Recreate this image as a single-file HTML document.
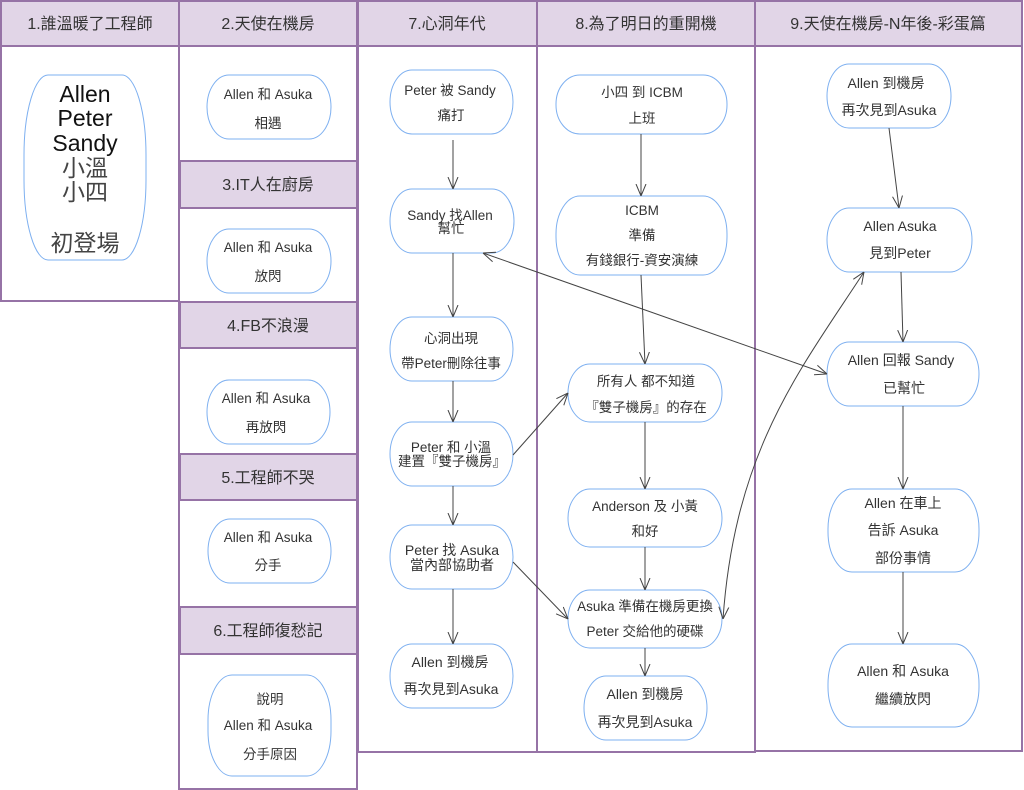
<!DOCTYPE html>
<html><head><meta charset="utf-8">
<style>
html,body{margin:0;padding:0;background:#fff;}
svg{display:block;}
text{font-family:"Liberation Sans","Noto Sans CJK TC",sans-serif;fill:#333;}
.h{font-size:16px;text-anchor:middle;}
.n{font-size:13.5px;text-anchor:middle;}
.m{font-size:14px;text-anchor:middle;}
.hd{fill:#e1d5e7;stroke:#9673a6;stroke-width:2;}
.ln{fill:#fff;stroke:#9673a6;stroke-width:2;}
.nd{fill:#fff;stroke:#7eb0f0;stroke-width:1;}
.e{fill:none;stroke:#444;stroke-width:1;}
</style></head><body>
<svg width="1024" height="790" viewBox="0 0 1024 790" xmlns="http://www.w3.org/2000/svg">
<defs>
<marker id="a" viewBox="0 0 12 12" refX="12" refY="6" markerWidth="12" markerHeight="12" orient="auto" markerUnits="userSpaceOnUse">
<path d="M0,1 L12,6 L0,11" fill="none" stroke="#444" stroke-width="1"/></marker>
<marker id="s" viewBox="0 0 12 12" refX="0" refY="6" markerWidth="12" markerHeight="12" orient="auto" markerUnits="userSpaceOnUse">
<path d="M12,1 L0,6 L12,11" fill="none" stroke="#444" stroke-width="1"/></marker>
</defs>

<!-- Lane 1 -->
<rect class="ln" x="1" y="46" width="178" height="255"/>
<rect class="hd" x="1" y="1" width="178" height="45"/>
<text class="h" x="90" y="29">1.誰溫暖了工程師</text>
<rect class="nd" x="24" y="75" width="122" height="185" rx="24" ry="80"/>
<text x="85" y="102" style="font-size:23px;text-anchor:middle;fill:#111">Allen</text>
<text x="85" y="126" style="font-size:23px;text-anchor:middle;fill:#111">Peter</text>
<text x="85" y="151" style="font-size:23px;text-anchor:middle;fill:#111">Sandy</text>
<text x="85" y="176" style="font-size:23px;text-anchor:middle;fill:#444">小溫</text>
<text x="85" y="200" style="font-size:23px;text-anchor:middle;fill:#444">小四</text>
<text x="85" y="251" style="font-size:23px;text-anchor:middle;fill:#444">初登場</text>

<!-- Lane 2 -->
<rect class="ln" x="179" y="46" width="178" height="743"/>
<rect class="hd" x="179" y="1" width="178" height="45"/>
<text class="h" x="268" y="29">2.天使在機房</text>
<rect class="hd" x="180" y="161" width="177" height="47"/>
<text class="h" x="268" y="190">3.IT人在廚房</text>
<rect class="hd" x="180" y="302" width="177" height="46"/>
<text class="h" x="268" y="331">4.FB不浪漫</text>
<rect class="hd" x="180" y="454" width="177" height="46"/>
<text class="h" x="268" y="483">5.工程師不哭</text>
<rect class="hd" x="180" y="607" width="177" height="47"/>
<text class="h" x="268" y="636">6.工程師復愁記</text>

<rect class="nd" x="207" y="75" width="124" height="64" rx="22" ry="32"/>
<text class="n" x="268" y="99">Allen 和 Asuka</text><text class="n" x="268" y="128">相遇</text>
<rect class="nd" x="207" y="229" width="124" height="64" rx="22" ry="32"/>
<text class="n" x="268" y="252">Allen 和 Asuka</text><text class="n" x="268" y="281">放閃</text>
<rect class="nd" x="207" y="380" width="123" height="64" rx="22" ry="32"/>
<text class="n" x="266" y="403">Allen 和 Asuka</text><text class="n" x="266" y="432">再放閃</text>
<rect class="nd" x="208" y="519" width="123" height="64" rx="22" ry="32"/>
<text class="n" x="268" y="542">Allen 和 Asuka</text><text class="n" x="268" y="570">分手</text>
<rect class="nd" x="208" y="675" width="123" height="101" rx="24" ry="45"/>
<text class="n" x="270" y="704">說明</text><text class="n" x="268" y="730">Allen 和 Asuka</text><text class="n" x="270" y="759">分手原因</text>

<!-- Lane 7 -->
<rect class="ln" x="358" y="46" width="179" height="706"/>
<rect class="hd" x="358" y="1" width="179" height="45"/>
<text class="h" x="447" y="29">7.心洞年代</text>
<rect class="nd" x="390" y="70" width="123" height="64" rx="22" ry="32"/>
<text class="n" x="450" y="95">Peter 被 Sandy</text><text class="n" x="451" y="120">痛打</text>
<rect class="nd" x="390" y="189" width="124" height="64" rx="22" ry="32"/>
<text class="n" x="450" y="220">Sandy 找Allen</text><text class="n" x="451" y="233">幫忙</text>
<rect class="nd" x="390" y="317" width="123" height="64" rx="22" ry="32"/>
<text class="n" x="451" y="343">心洞出現</text><text class="n" x="451" y="368">帶Peter刪除往事</text>
<rect class="nd" x="390" y="422" width="123" height="64" rx="22" ry="32"/>
<text class="n" x="451" y="452">Peter 和 小溫</text><text class="n" x="452" y="466">建置『雙子機房』</text>
<rect class="nd" x="390" y="525" width="123" height="64" rx="22" ry="32"/>
<text class="m" x="452" y="555">Peter 找 Asuka</text><text class="m" x="452" y="570">當內部協助者</text>
<rect class="nd" x="390" y="644" width="123" height="64" rx="22" ry="32"/>
<text class="m" x="450" y="667">Allen 到機房</text><text class="m" x="451" y="694">再次見到Asuka</text>

<!-- Lane 8 -->
<rect class="ln" x="537" y="46" width="218" height="706"/>
<rect class="hd" x="537" y="1" width="218" height="45"/>
<text class="h" x="646" y="29">8.為了明日的重開機</text>
<rect class="nd" x="556" y="75" width="171" height="59" rx="24" ry="29"/>
<text class="n" x="642" y="97">小四 到 ICBM</text><text class="n" x="642" y="123">上班</text>
<rect class="nd" x="556" y="196" width="171" height="79" rx="24" ry="38"/>
<text class="n" x="642" y="215">ICBM</text><text class="n" x="642" y="240">準備</text><text class="n" x="642" y="265">有錢銀行-資安演練</text>
<rect class="nd" x="568" y="364" width="154" height="58" rx="22" ry="29"/>
<text class="n" x="646" y="386">所有人 都不知道</text><text class="n" x="646" y="412">『雙子機房』的存在</text>
<rect class="nd" x="568" y="489" width="154" height="58" rx="22" ry="29"/>
<text class="n" x="645" y="511">Anderson 及 小黃</text><text class="n" x="645" y="536">和好</text>
<rect class="nd" x="568" y="590" width="154" height="58" rx="22" ry="29"/>
<text class="n" x="645" y="611">Asuka 準備在機房更換</text><text class="n" x="645" y="636">Peter 交給他的硬碟</text>
<rect class="nd" x="584" y="676" width="123" height="64" rx="22" ry="32"/>
<text class="m" x="645" y="699">Allen 到機房</text><text class="m" x="645" y="727">再次見到Asuka</text>

<!-- Lane 9 -->
<rect class="ln" x="755" y="46" width="267" height="705"/>
<rect class="hd" x="755" y="1" width="267" height="45"/>
<text class="h" x="888" y="29">9.天使在機房-N年後-彩蛋篇</text>
<rect class="nd" x="827" y="64" width="124" height="64" rx="22" ry="32"/>
<text class="m" x="886" y="88">Allen 到機房</text><text class="m" x="889" y="115">再次見到Asuka</text>
<rect class="nd" x="827" y="208" width="145" height="64" rx="22" ry="32"/>
<text class="m" x="900" y="231">Allen Asuka</text><text class="m" x="900" y="258">見到Peter</text>
<rect class="nd" x="827" y="342" width="152" height="64" rx="22" ry="32"/>
<text class="m" x="901" y="365">Allen 回報 Sandy</text><text class="m" x="904" y="393">已幫忙</text>
<rect class="nd" x="828" y="489" width="151" height="83" rx="24" ry="40"/>
<text class="m" x="903" y="508">Allen 在車上</text><text class="m" x="903" y="535">告訴 Asuka</text><text class="m" x="903" y="563">部份事情</text>
<rect class="nd" x="828" y="644" width="151" height="83" rx="24" ry="40"/>
<text class="m" x="903" y="676">Allen 和 Asuka</text><text class="m" x="903" y="704">繼續放閃</text>

<!-- edges lane 7 -->
<path class="e" d="M453,140 L453,189" marker-end="url(#a)"/>
<path class="e" d="M453,253 L453,317" marker-end="url(#a)"/>
<path class="e" d="M453,381 L453,422" marker-end="url(#a)"/>
<path class="e" d="M453,486 L453,525" marker-end="url(#a)"/>
<path class="e" d="M453,589 L453,644" marker-end="url(#a)"/>
<!-- lane 8 -->
<path class="e" d="M641,134 L641,196" marker-end="url(#a)"/>
<path class="e" d="M641,275 L645,364" marker-end="url(#a)"/>
<path class="e" d="M645,422 L645,489" marker-end="url(#a)"/>
<path class="e" d="M645,547 L645,590" marker-end="url(#a)"/>
<path class="e" d="M645,648 L645,676" marker-end="url(#a)"/>
<!-- lane 9 -->
<path class="e" d="M889,128 L899,208" marker-end="url(#a)"/>
<path class="e" d="M901,272 L903,342" marker-end="url(#a)"/>
<path class="e" d="M903,406 L903,489" marker-end="url(#a)"/>
<path class="e" d="M903,572 L903,644" marker-end="url(#a)"/>
<!-- cross -->
<path class="e" d="M483,253 L827,374" marker-start="url(#s)" marker-end="url(#a)"/>
<path class="e" d="M513,455 L568,393" marker-end="url(#a)"/>
<path class="e" d="M513,562 L568,619" marker-end="url(#a)"/>
<path class="e" d="M723,619 C735,450 800,370 864,272" marker-start="url(#s)" marker-end="url(#a)"/>
</svg>
</body></html>
